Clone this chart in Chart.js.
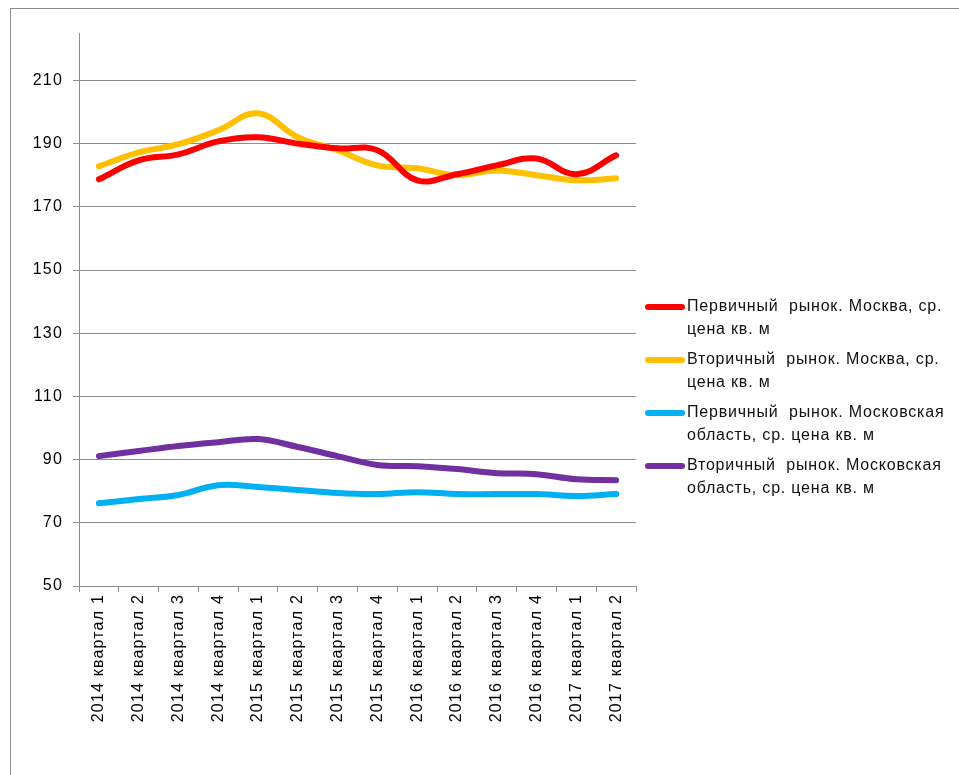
<!DOCTYPE html>
<html>
<head>
<meta charset="utf-8">
<script src="https://cdn.jsdelivr.net/npm/chart.js@4/dist/chart.umd.min.js"></script>
<style>
  html, body { margin: 0; padding: 0; background: #fff; }
  body { width: 959px; height: 775px; position: relative; overflow: hidden; font-family: "Liberation Sans", Arial, sans-serif; }
  #frame { position: absolute; left: 10px; top: 8px; width: 1000px; height: 800px; border: 1px solid #8c8c8c; }
  #chart { position: absolute; left: 0; top: 0; }
  #legend { position: absolute; left: 645px; top: 294px; }
  .item { display: flex; align-items: flex-start; margin-bottom: 7px; }
  .swatch { width: 40px; height: 6px; border-radius: 3px; margin-top: 10px; flex: none; }
  .text { width: 268px; font-size: 16px; line-height: 23px; letter-spacing: 0.8px; color: #111; padding-left: 2px; white-space: pre-wrap; }
</style>
</head>
<body>
<div id="frame"></div>
<canvas id="chart" width="959" height="775"></canvas>
<div id="legend"></div>
<script>
// квартальные цены, тыс. руб. за кв. м
const quarters = [
  '2014 квартал 1', '2014 квартал 2', '2014 квартал 3', '2014 квартал 4',
  '2015 квартал 1', '2015 квартал 2', '2015 квартал 3', '2015 квартал 4',
  '2016 квартал 1', '2016 квартал 2', '2016 квартал 3', '2016 квартал 4',
  '2017 квартал 1', '2017 квартал 2'
];

const seriesNames = [
  'Первичный  рынок. Москва, ср. цена кв. м',
  'Вторичный  рынок. Москва, ср. цена кв. м',
  'Первичный  рынок. Московская область, ср. цена кв. м',
  'Вторичный  рынок. Московская область, ср. цена кв. м'
];

const primaryMoscow   = [178.7, 184.7, 186.6, 190.7, 192.0, 190.0, 188.5, 187.9, 178.4, 180.3, 183.1, 185.3, 180.3, 186.3];
const secondaryMoscow = [182.8, 187.2, 189.8, 194.2, 199.6, 192.0, 187.9, 183.1, 182.2, 180.0, 181.5, 180.0, 178.4, 179.0];
const primaryRegion   = [76.2, 77.5, 78.8, 81.9, 81.3, 80.4, 79.4, 79.1, 79.7, 79.1, 79.1, 79.1, 78.5, 79.1];
const secondaryRegion = [91.1, 92.7, 94.3, 95.5, 96.5, 94.0, 91.1, 88.3, 87.9, 87.0, 85.7, 85.4, 83.8, 83.5];

const yTicks = [50, 70, 90, 110, 130, 150, 170, 190, 210];

const colors = ['#ff0000', '#ffc000', '#00b0f0', '#7030a0'];
const allSeries = [primaryMoscow, secondaryMoscow, primaryRegion, secondaryRegion];

function makeDataset(i) {
  return {
    label: seriesNames[i],
    data: allSeries[i],
    borderColor: colors[i],
    backgroundColor: colors[i],
    borderWidth: 6,
    borderCapStyle: 'round',
    tension: 0.4,
    pointRadius: 0,
    fill: false
  };
}

const data = {
  labels: quarters,
  datasets: allSeries.map((s, i) => makeDataset(i))
};

// в оригинале подписи осей чуть разрежены
const spacingPlugin = {
  id: 'spacing',
  beforeDraw(chart) { chart.ctx.letterSpacing = '1.2px'; }
};

const font = { family: '"Liberation Sans", Arial, sans-serif', size: 16 };

const config = {
  type: 'line',
  data: data,
  plugins: [spacingPlugin],
  options: {
    responsive: false,
    animation: false,
    layout: { padding: { top: 33, right: 323, left: 0, bottom: 0 } },
    plugins: {
      legend: { display: false },
      tooltip: { enabled: false }
    },
    scales: {
      x: {
        offset: true,
        grid: {
          offset: true,
          drawOnChartArea: false,
          drawTicks: true,
          tickLength: 6,
          color: '#8c8c8c'
        },
        border: { color: '#8c8c8c' },
        ticks: {
          minRotation: 90,
          maxRotation: 90,
          autoSkip: false,
          color: '#000',
          padding: 2,
          font: font
        },
        afterFit: function(scale) { scale.height = 189; }
      },
      y: {
        min: 50,
        max: 225,
        afterBuildTicks: function(axis) {
          axis.ticks = yTicks.map(v => ({ value: v }));
        },
        grid: {
          color: '#8c8c8c',
          tickLength: 6
        },
        border: { color: '#8c8c8c' },
        ticks: {
          color: '#000',
          padding: 10,
          font: font
        },
        afterFit: function(scale) { scale.width = 79; }
      }
    }
  }
};

const ctx = document.getElementById('chart').getContext('2d');
new Chart(ctx, config);

// легенда справа, в две строки
const legend = document.getElementById('legend');
seriesNames.forEach((name, i) => {
  const item = document.createElement('div');
  item.className = 'item';
  const sw = document.createElement('span');
  sw.className = 'swatch';
  sw.style.background = colors[i];
  const tx = document.createElement('span');
  tx.className = 'text';
  tx.textContent = name;
  item.appendChild(sw);
  item.appendChild(tx);
  legend.appendChild(item);
});
</script>
</body>
</html>
